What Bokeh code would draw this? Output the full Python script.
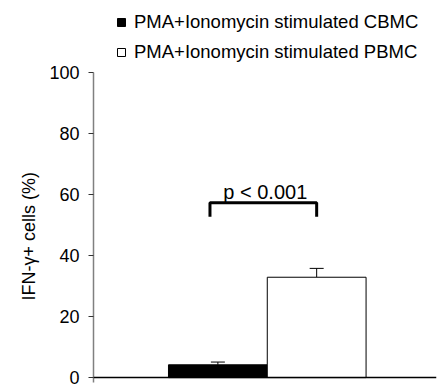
from bokeh.plotting import figure
from bokeh.models import (ColumnDataSource, Range1d, Whisker, Legend, LegendItem,
                          FixedTicker, Span, Title)
from bokeh.core.properties import value
from bokeh.embed import file_html
from bokeh.resources import INLINE

# ---- data ----
groups = ["PMA+Ionomycin stimulated CBMC", "PMA+Ionomycin stimulated PBMC"]
means = [4.2, 32.9]
errors = [0.9, 2.9]
bar_colors = ["black", "white"]
y_ticks = [0, 20, 40, 60, 80, 100]
p_label = "p < 0.001"
bracket_level = 57.3
bracket_drop = 4.6
y_title = "IFN-\u03b3+ cells (%)"

FONT = "Liberation Sans"

xs = [i + 1 for i in range(len(groups))]
src = ColumnDataSource(dict(
    x=xs, top=means,
    upper=[m + e for m, e in zip(means, errors)],
    fill=bar_colors, label=groups,
))

y_min, y_max = -1.6, 100
p = figure(width=437, height=387, output_backend="svg", toolbar_location=None,
           x_range=Range1d(-0.259, 3.213), y_range=Range1d(y_min, 123.6))
p.min_border_left = 93
p.min_border_right = 1
p.min_border_top = 0
p.min_border_bottom = 5
p.outline_line_color = None
p.grid.visible = False
p.xaxis.visible = False
p.background_fill_color = "white"
p.border_fill_color = "white"

bars = p.vbar(x="x", top="top", bottom=0, width=1.0, source=src,
              fill_color="fill", line_color="black", line_width=1)

w = Whisker(source=src, base="x", upper="upper", lower="top",
            line_color="black", line_width=1)
w.upper_head.size = 14
w.upper_head.line_color = "black"
w.upper_head.line_width = 1
w.lower_head = None
p.add_layout(w)

# baseline
p.add_layout(Span(location=0, dimension="width", line_color="black", line_width=1.5))

# significance bracket
bx0 = xs[0] - 0.08
bx1 = xs[1]
p.line(x=[bx0, bx0, bx1, bx1],
       y=[bracket_level - bracket_drop, bracket_level, bracket_level, bracket_level - bracket_drop],
       line_color="black", line_width=3)
p.text(x=[(bx0 + bx1) / 2 + 0.02], y=[bracket_level], text=[p_label],
       text_align="center", text_baseline="alphabetic", y_offset=-11,
       text_font=value(FONT), text_font_size="20px", text_color="black")

ax = p.yaxis[0]
ax.ticker = FixedTicker(ticks=y_ticks)
ax.bounds = (y_min, y_max)
ax.minor_tick_line_color = None
ax.major_tick_in = 0
ax.major_tick_out = 5
ax.major_tick_line_color = "#333333"
ax.axis_line_color = "#808080"
ax.axis_line_width = 1.5
ax.major_label_text_font = FONT
ax.major_label_text_font_size = "18px"
ax.major_label_text_color = "black"
ax.major_label_standoff = 9

# y title as a side title (placed a little low, as in the original)
ytitle = Title(text=y_title, align="left", offset=82, standoff=15,
               text_font=FONT, text_font_size="18px", text_font_style="normal",
               text_color="black")
p.add_layout(ytitle, "left")

legend = Legend(items=[LegendItem(label=groups[i], renderers=[bars], index=i) for i in range(len(groups))],
                location=(23, 319), orientation="vertical")
legend.padding = 0
legend.margin = 0
legend.spacing = 8
legend.glyph_width = 10
legend.glyph_height = 10
legend.label_height = 21
legend.label_standoff = 8
legend.label_text_font = FONT
legend.label_text_font_size = "18.5px"
legend.label_text_color = "black"
legend.border_line_alpha = 0
legend.background_fill_alpha = 0
p.add_layout(legend)

open("out.html", "w").write(file_html(p, INLINE))
